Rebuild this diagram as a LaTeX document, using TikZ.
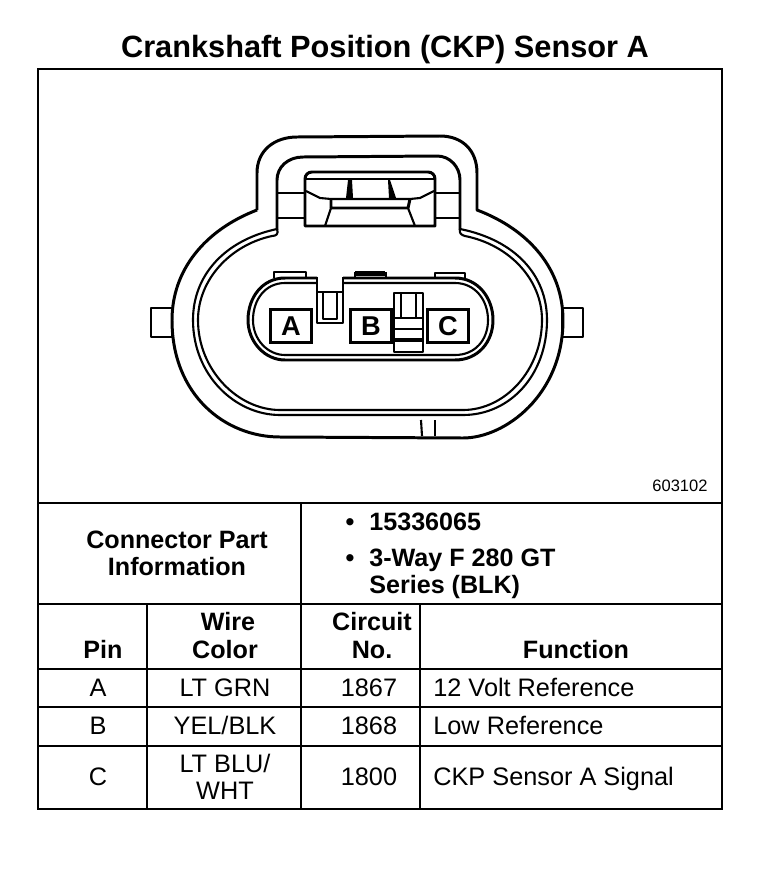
\documentclass[tikz,border=0pt]{standalone}
\usepackage{fontspec}
\setmainfont{Liberation Sans}
\usetikzlibrary{positioning}
\tikzset{
  part/.style={line width=1.7pt,line join=round},
  thinpart/.style={line width=1.2pt,line join=round},
  rule/.style={line width=1.2pt},
  headtext/.style={font=\fontsize{14.3}{16}\selectfont\bfseries,inner sep=0pt,anchor=base},
  bodytext/.style={font=\fontsize{14.4}{16}\selectfont,inner sep=0pt,anchor=base},
  lefttext/.style={bodytext,anchor=base west},
  pinbox/.style={draw,line width=1.7pt,minimum width=23.2pt,minimum height=19.2pt,inner sep=0pt,font=\fontsize{15.5}{16}\selectfont\bfseries}
}
\begin{document}
\begin{tikzpicture}[x=0.02cm,y=-0.02cm]
\useasboundingbox (0,0) rectangle (768,876);

\node[font=\fontsize{17.5}{20}\selectfont\bfseries,inner sep=0pt,anchor=base] (title) at (385,57) {Crankshaft Position (CKP) Sensor A};

% frame and table
\draw[rule] (38,69) rectangle (722,809);
\draw[rule] (38,503) -- (722,503);
\draw[rule] (38,604) -- (722,604);
\draw[rule] (38,669) -- (722,669);
\draw[rule] (38,707) -- (722,707);
\draw[rule] (38,746) -- (722,746);
\draw[rule] (301,503) -- (301,809);
\draw[rule] (147,604) -- (147,809);
\draw[rule] (420,604) -- (420,809);

% body of the connector
\draw[part] (257,210) -- (257,173) .. controls (257,150) and (275,137) .. (297,137) -- (440,136) .. controls (462,136) and (477,150) .. (477,173) -- (477,210)
  .. controls (530,230) and (563,270) .. (563,320) .. controls (563,395) and (505,438) .. (463,438) -- (280,437) .. controls (225,437) and (172,395) .. (172,320) .. controls (172,270) and (205,230) .. (257,210);% outer
\draw[part] (277,230) -- (277,180) .. controls (277,167) and (288,157) .. (303,157) -- (437,156) .. controls (450,156) and (460,167) .. (460,180) -- (460,230);% arch
\draw[thinpart] (277,229) .. controls (225,240) and (193,275) .. (193,320) .. controls (193,375) and (235,415) .. (280,415) -- (463,415) .. controls (510,415) and (547,375) .. (547,320) .. controls (547,275) and (515,240) .. (460,229);% seal
\draw[thinpart] (277,229) .. controls (279,234) and (276,236) .. (272,236) .. controls (230,245) and (198,280) .. (198,320) .. controls (198,370) and (238,410) .. (280,410) -- (463,410) .. controls (505,410) and (542,370) .. (542,320) .. controls (542,280) and (510,245) .. (465,236) .. controls (461,235) and (459,233) .. (460,229);% seal inner
\draw[part] (151,308) rectangle (172,337);% left tab
\draw[part] (562,308) rectangle (583,337);% right tab
\draw[thinpart] (421,420) -- (422,436);% bottom tab
\draw[thinpart] (435,420) -- (435,436);

% latch
\draw[part] (305,226) -- (305,179) .. controls (305,175) and (308,172) .. (312,172) -- (428,172) .. controls (432,172) and (435,175) .. (435,179) -- (435,226) -- cycle;
\draw[thinpart] (277,193) -- (305,193);
\draw[thinpart] (277,218) -- (305,218);
\draw[thinpart] (435,193) -- (460,193);
\draw[thinpart] (435,218) -- (460,218);
\draw[part] (306,179) -- (434,179);
\draw[thinpart] (306,191) -- (320,198) -- (331,199) -- (410,199) -- (420,198) -- (434,191);
\draw[part] (331,199) -- (331,208) -- (408,208) -- (410,199);
\draw[thinpart] (331,208) -- (325,226);
\draw[thinpart] (408,208) -- (415,226);
\fill (348,180) -- (346,198) -- (353,198) -- (352,180) -- cycle;
\fill (388,180) -- (389,198) -- (396,198) -- (390,180) -- cycle;

% cavity
\draw[part] (317,278) -- (285,278) .. controls (262,278) and (248,298) .. (248,320) .. controls (248,342) and (265,360) .. (285,360) -- (455,360) .. controls (478,360) and (493,342) .. (493,320) .. controls (493,298) and (478,278) .. (455,278) -- (343,278);
\draw[thinpart] (317,283) -- (285,283) .. controls (265,283) and (253,300) .. (253,320) .. controls (253,340) and (268,355) .. (285,355) -- (455,355) .. controls (475,355) and (488,340) .. (488,320) .. controls (488,300) and (475,283) .. (455,283) -- (343,283);
\draw[part] (317,277) -- (317,323) -- (343,323) -- (343,277);
\draw[thinpart] (317,292) -- (343,292);
\draw[thinpart] (323,292) -- (323,319) -- (337,319) -- (337,292);
\draw[thinpart] (274,278) -- (274,272) -- (306,272) -- (306,277);% tab over A
\draw[line width=3pt] (355,273.5) -- (385,273.5);% tab over B
\draw[thinpart] (355,278) -- (355,272);
\draw[thinpart] (386,278) -- (386,272);
\draw[thinpart] (435,278) -- (435,273) -- (465,273) -- (465,278);% tab over C

% slider
\draw[part] (394,293) rectangle (423,352);
\draw[thinpart] (401,293) -- (401,318);
\draw[thinpart] (416,293) -- (416,318);
\draw[part] (394,318) -- (423,318);
\draw[thinpart] (394,329) -- (423,329);
\draw[line width=2.4pt] (394,340) -- (423,340);

\node[pinbox] (pinA) at (291,326) {A};
\node[pinbox] (pinB) at (371,326) {B};
\node[pinbox] (pinC) at (448,326) {C};

\node[font=\fontsize{9.4}{11}\selectfont,inner sep=0pt,anchor=base] (drawingno) at (680,491) {603102};

\node[headtext] (partA) at (177,548) {Connector Part};
\node[headtext] (partB) at (177,575) {Information};
\node[headtext] (bulletA) at (350,530) {•};
\node[headtext,anchor=base west] (numberA) at (369,530) {15336065};
\node[headtext] (bulletB) at (350,566) {•};
\node[headtext,anchor=base west] (numberB) at (369,566) {3-Way F 280 GT};
\node[headtext,anchor=base west] (numberC) at (369,593) {Series (BLK)};

\node[headtext] (headpin) at (103,658) {Pin};
\node[headtext] (headwireA) at (228,630) {Wire};
\node[headtext] (headwireB) at (225,658) {Color};
\node[headtext] (headcircuitA) at (372,630) {Circuit};
\node[headtext] (headcircuitB) at (372,658) {No.};
\node[headtext] (headfunc) at (576,658) {Function};

\node[bodytext] (rowApin) at (98,696) {A};
\node[bodytext] (rowAwire) at (225,696) {LT GRN};
\node[bodytext] (rowAcircuit) at (369,696) {1867};
\node[lefttext] (rowAfunc) at (433,696) {12 Volt Reference};

\node[bodytext] (rowBpin) at (98,734) {B};
\node[bodytext] (rowBwire) at (225,734) {YEL/BLK};
\node[bodytext] (rowBcircuit) at (369,734) {1868};
\node[lefttext] (rowBfunc) at (433,734) {Low Reference};

\node[bodytext] (rowCpin) at (98,785) {C};
\node[bodytext] (rowCwireA) at (225,772) {LT BLU/};
\node[bodytext] (rowCwireB) at (225,799) {WHT};
\node[bodytext] (rowCcircuit) at (369,785) {1800};
\node[lefttext] (rowCfunc) at (433,785) {CKP Sensor A Signal};

\end{tikzpicture}
\end{document}
